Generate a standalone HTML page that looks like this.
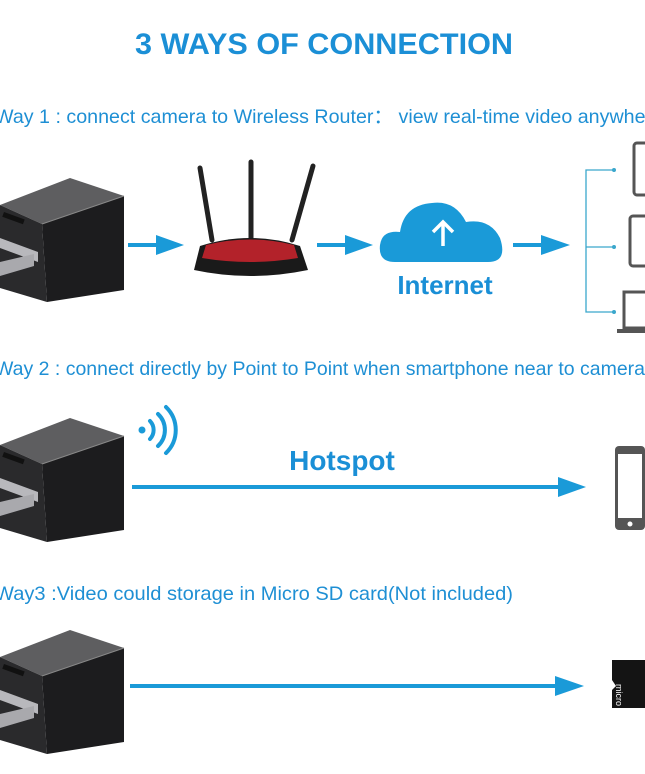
<!DOCTYPE html>
<html><head><meta charset="utf-8"><style>
html,body{margin:0;padding:0;background:#fff;width:645px;height:774px;overflow:hidden}
svg{display:block}
text{font-family:"Liberation Sans","Noto Sans CJK SC",sans-serif}
</style></head><body>
<svg width="645" height="774" viewBox="0 0 645 774" xmlns="http://www.w3.org/2000/svg">
<defs>
<g id="cam">
  <polygon points="0,205 70,178 124,196 42,224" fill="#5e5e60"/>
  <polygon points="42,224 124,196 124,290 47,302" fill="#1c1c1e"/>
  <polygon points="0,205 42,224 47,302 0,288" fill="#2a2a2c"/>
  <line x1="42" y1="224" x2="124" y2="196" stroke="#888" stroke-width="1"/>
  <polygon points="0,238 38,252 38,262 0,248" fill="#b8b8bc"/>
  <polygon points="0,262 34,254 34,266 0,276" fill="#a9a9ad"/>
  <rect x="4" y="212" width="22" height="5" fill="#111" transform="rotate(20 4 212)"/>
</g>
<g id="phone">
  <rect x="0" y="0" width="30" height="84" rx="4" fill="#555"/>
  <rect x="3" y="8" width="24" height="64" fill="#fff"/>
  <circle cx="15" cy="78" r="2.5" fill="#fff"/>
</g>
</defs>
<text x="135" y="54" textLength="378" lengthAdjust="spacingAndGlyphs" font-size="30" font-weight="bold" fill="#1b8fd6">3 WAYS OF CONNECTION</text>

<text x="-5" y="123" textLength="668" lengthAdjust="spacingAndGlyphs" font-size="19.5" fill="#1e8fd4">Way 1 : connect camera to Wireless Router：  view real-time video anywhere</text>
<use href="#cam"/>
<!-- router -->
<line x1="200" y1="168" x2="212" y2="240" stroke="#222" stroke-width="5" stroke-linecap="round"/>
<line x1="251" y1="162" x2="251" y2="240" stroke="#222" stroke-width="5" stroke-linecap="round"/>
<line x1="313" y1="166" x2="292" y2="240" stroke="#222" stroke-width="5" stroke-linecap="round"/>
<path d="M200,246 Q250,230 300,246 L308,270 Q250,282 194,270 Z" fill="#1a1a1a"/>
<path d="M206,245 Q250,234 294,245 L298,258 Q250,266 202,258 Z" fill="#b3222a"/>
<!-- cloud -->
<path d="M395,262 Q378,262 380,245 Q382,230 400,232 Q404,205 432,203 Q455,200 466,222 Q490,218 500,238 Q508,262 488,262 Z" fill="#1a9ad8"/>
<path d="M443,246 L443,222 M433,232 L443,222 L453,232" stroke="#fff" stroke-width="3.5" fill="none"/>
<text x="445" y="294" text-anchor="middle" font-size="26" font-weight="bold" fill="#1a8fd6">Internet</text>
<g fill="#1a9ad8">
<rect x="128" y="243" width="30" height="4"/><polygon points="156,235 184,245 156,255"/>
<rect x="317" y="243" width="30" height="4"/><polygon points="345,235 373,245 345,255"/>
<rect x="513" y="243" width="30" height="4"/><polygon points="541,235 570,245 541,255"/>
</g>
<g stroke="#3aa7cc" stroke-width="1.3" fill="none">
<path d="M614,170 L586,170 L586,312 L614,312 M586,247 L614,247"/>
</g>
<g fill="#3aa7cc"><circle cx="614" cy="170" r="2"/><circle cx="614" cy="247" r="2"/><circle cx="614" cy="312" r="2"/></g>
<rect x="634" y="143" width="14" height="52" rx="3" fill="none" stroke="#555" stroke-width="3"/>
<rect x="630" y="216" width="18" height="50" rx="3" fill="none" stroke="#555" stroke-width="3"/>
<rect x="624" y="292" width="24" height="36" fill="none" stroke="#555" stroke-width="3"/>
<rect x="617" y="329" width="30" height="4" fill="#555"/>

<text x="-5" y="375" textLength="650" lengthAdjust="spacingAndGlyphs" font-size="19.5" fill="#1e8fd4">Way 2 : connect directly by Point to Point when smartphone near to camera</text>
<use href="#cam" transform="translate(0,240)"/>
<circle cx="142" cy="430" r="3.5" fill="#1a9ad8"/>
<g stroke="#1a9ad8" stroke-width="4" fill="none" stroke-linecap="round">
<path d="M150,421 A13,13 0 0 1 150,439"/>
<path d="M158,414 A22,22 0 0 1 158,446"/>
<path d="M166,407 A32,32 0 0 1 166,453"/>
</g>
<text x="342" y="470" text-anchor="middle" font-size="28" font-weight="bold" fill="#1a8fd6">Hotspot</text>
<rect x="132" y="485" width="430" height="4" fill="#1a9ad8"/><polygon points="558,477 586,487 558,497" fill="#1a9ad8"/>
<use href="#phone" transform="translate(615,446)"/>

<text x="-5" y="600" textLength="518" lengthAdjust="spacingAndGlyphs" font-size="19.5" fill="#1e8fd4">Way3 :Video could storage in Micro SD card(Not included)</text>
<use href="#cam" transform="translate(0,452)"/>
<rect x="130" y="684" width="428" height="4" fill="#1a9ad8"/><polygon points="555,676 584,686 555,696" fill="#1a9ad8"/>
<path d="M612,660 L645,660 L645,708 L612,708 L612,690 L616,686 L612,680 Z" fill="#141414"/>
<text x="628" y="696" font-size="9" fill="#fff" transform="rotate(90 628 684)">micro SD</text>
</svg>
</body></html>
